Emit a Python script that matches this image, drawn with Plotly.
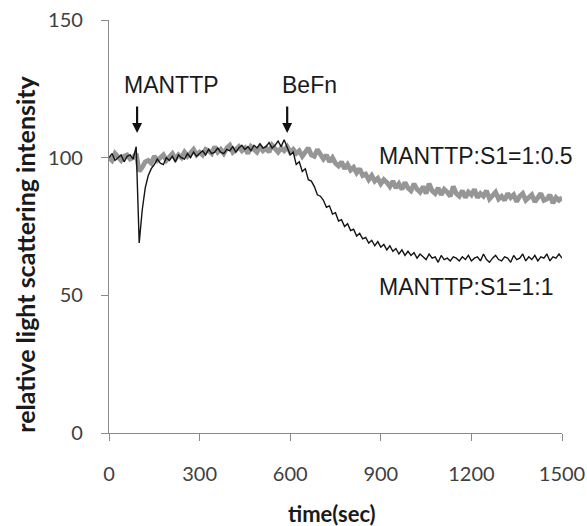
import plotly.graph_objects as go

# time axis (sec), 10-s sampling
time_sec = list(range(0, 1501, 10))

# MANTTP:S1 = 1:1 (black trace)
ratio_1_1 = [
    100, 101.5, 99, 100, 101, 98.5, 100.5, 101, 99.5, 104,
    69, 81, 89, 93.5, 96, 97.5, 99.5, 98, 97.5, 100,
    99, 100.5, 98.5, 101, 100, 99.5, 101.5, 100, 102, 100.5,
    101.5, 102.5, 101, 103, 101.5, 102, 103.5, 102, 101.5, 103,
    102.5, 104, 102, 103.5, 104.5, 103, 104, 102.5, 104.5, 103.5,
    105, 103.5, 104, 105.5, 103.5, 104.5, 106, 104, 106.5, 104,
    101, 102, 97.5, 98.5, 95, 96, 92, 91.5, 89.5, 86.5,
    86, 84.5, 82, 82.5, 79.5, 80, 77, 77.5, 75, 76,
    73.5, 74, 71.5, 72.5, 70.5, 71, 69, 70, 68, 69.5,
    67.5, 68.5, 66.5, 68, 66, 67, 65, 66.5, 64.5, 66,
    64.5, 65.5, 63.5, 65, 64, 63, 65, 63.5, 64, 62,
    64.5, 63, 63.5, 62.5, 64, 63.5, 62.5, 64, 63, 64.5,
    62.5, 63.5, 64, 62.5, 65, 63, 62, 63.5, 64.5, 63,
    62.5, 64, 63.5, 62, 64.5, 63, 63.5, 65, 62.5, 64,
    63, 64.5, 62.5, 64, 63.5, 65, 62.5, 64, 63.5, 65,
    63.5,
]

# MANTTP:S1 = 1:0.5 (gray trace)
ratio_1_05 = [
    100, 99, 101.5, 100, 99, 100.5, 101, 99.5, 100, 101.5,
    95, 96.5, 98.5, 99, 98, 100.5, 99, 100, 101, 99,
    100.5, 101.5, 99.5, 101, 100, 102, 100.5, 101.5, 103, 101,
    102, 101, 103, 102.5, 101.5, 104, 102, 103, 101.5, 103.5,
    104.5, 102, 103, 104, 102.5, 103.5, 101.5, 104, 103, 102,
    104, 102.5, 103.5, 102, 104.5, 103, 102, 103.5, 102.5, 104,
    102, 103, 101.5, 102.5, 100.5, 102, 103.5, 101, 100.5, 103,
    101, 99.5, 101, 98.5, 100, 98, 97, 98.5, 96, 97.5,
    95.5, 96.5, 94.5, 96, 93.5, 94, 92, 93.5, 91.5, 92.5,
    90.5, 92, 91, 89.5, 91.5, 89, 90.5, 88.5, 91, 89,
    88, 90.5, 88.5, 87.5, 89.5, 87, 90.5, 88, 87, 89,
    86.5, 88.5, 87.5, 86, 89.5, 87, 86, 88, 85.5, 87.5,
    86.5, 88.5, 85.5, 87, 86, 88, 85, 86.5, 87.5, 85,
    86, 84.5, 87, 85.5, 86.5, 84, 86, 87, 84.5, 85.5,
    86.5, 84, 85.5, 87, 84.5, 85, 86.5, 83.5, 85.5, 84.5,
    85.5,
]

x_ticks = [0, 300, 600, 900, 1200, 1500]
y_ticks = [0, 50, 100, 150]

fig = go.Figure()
fig.add_trace(go.Scatter(x=time_sec, y=ratio_1_05, mode="lines",
                         line=dict(color="rgb(150,150,150)", width=4.8),
                         name="MANTTP:S1=1:0.5", hoverinfo="skip"))
fig.add_trace(go.Scatter(x=time_sec, y=ratio_1_1, mode="lines",
                         line=dict(color="rgb(20,20,20)", width=1.4),
                         name="MANTTP:S1=1:1", hoverinfo="skip"))

tick_font = dict(family="Lato", size=20, color="#404040")
axis_common = dict(showgrid=False, zeroline=False, showline=True,
                   linecolor="#8a8a8a", linewidth=1.3, ticks="outside",
                   ticklen=7, tickcolor="#8a8a8a", tickwidth=1.3,
                   tickfont=tick_font, automargin=False)

fig.update_layout(
    width=587, height=526, autosize=False,
    margin=dict(l=109, r=25, t=20, b=93),
    plot_bgcolor="white", paper_bgcolor="white",
    showlegend=False,
    xaxis=dict(range=[0, 1500], tickvals=x_ticks, ticklabelstandoff=16, **axis_common),
    yaxis=dict(range=[0, 150], tickvals=y_ticks, ticklabelstandoff=14, **axis_common),
)

ann_font = dict(family="Liberation Sans", size=23, color="#1a1a1a")

annotations = [
    dict(x=208, y=126.5, xref="x", yref="y", text="MANTTP", showarrow=False,
         font=ann_font),
    dict(x=665, y=126.5, xref="x", yref="y", text="BeFn", showarrow=False,
         font=ann_font),
    dict(x=93, y=109, xref="x", yref="y", text="", showarrow=True,
         arrowhead=2, arrowsize=0.9, arrowwidth=2.2, arrowcolor="#111",
         ax=0, ay=-28),
    dict(x=590, y=109, xref="x", yref="y", text="", showarrow=True,
         arrowhead=2, arrowsize=0.9, arrowwidth=2.2, arrowcolor="#111",
         ax=0, ay=-28),
    dict(x=889, y=100.5, xref="x", yref="y", text="MANTTP:S1=1:0.5",
         showarrow=False, xanchor="left", font=ann_font),
    dict(x=889, y=53, xref="x", yref="y", text="MANTTP:S1=1:1",
         showarrow=False, xanchor="left", font=ann_font),
    dict(x=(332 - 109) / 453, y=-(513 - 433) / 412.5, xref="paper", yref="paper",
         text="<b>time(sec)</b>", showarrow=False,
         font=dict(family="Lato", size=22, color="#1a1a1a"),
         xanchor="center", yanchor="middle"),
    dict(x=(25 - 109) / 453, y=(433 - 255) / 412.5, xref="paper", yref="paper",
         text="<b>relative light scattering intensity</b>", showarrow=False,
         textangle=-90, font=dict(family="Lato", size=25, color="#1a1a1a"),
         xanchor="center", yanchor="middle"),
]
fig.update_layout(annotations=annotations)

fig.write_html(
    "out.html",
    config={"responsive": False, "displayModeBar": False},
    post_script="document.body.style.margin='0';document.body.style.padding='0';document.body.style.overflow='hidden';",
)
